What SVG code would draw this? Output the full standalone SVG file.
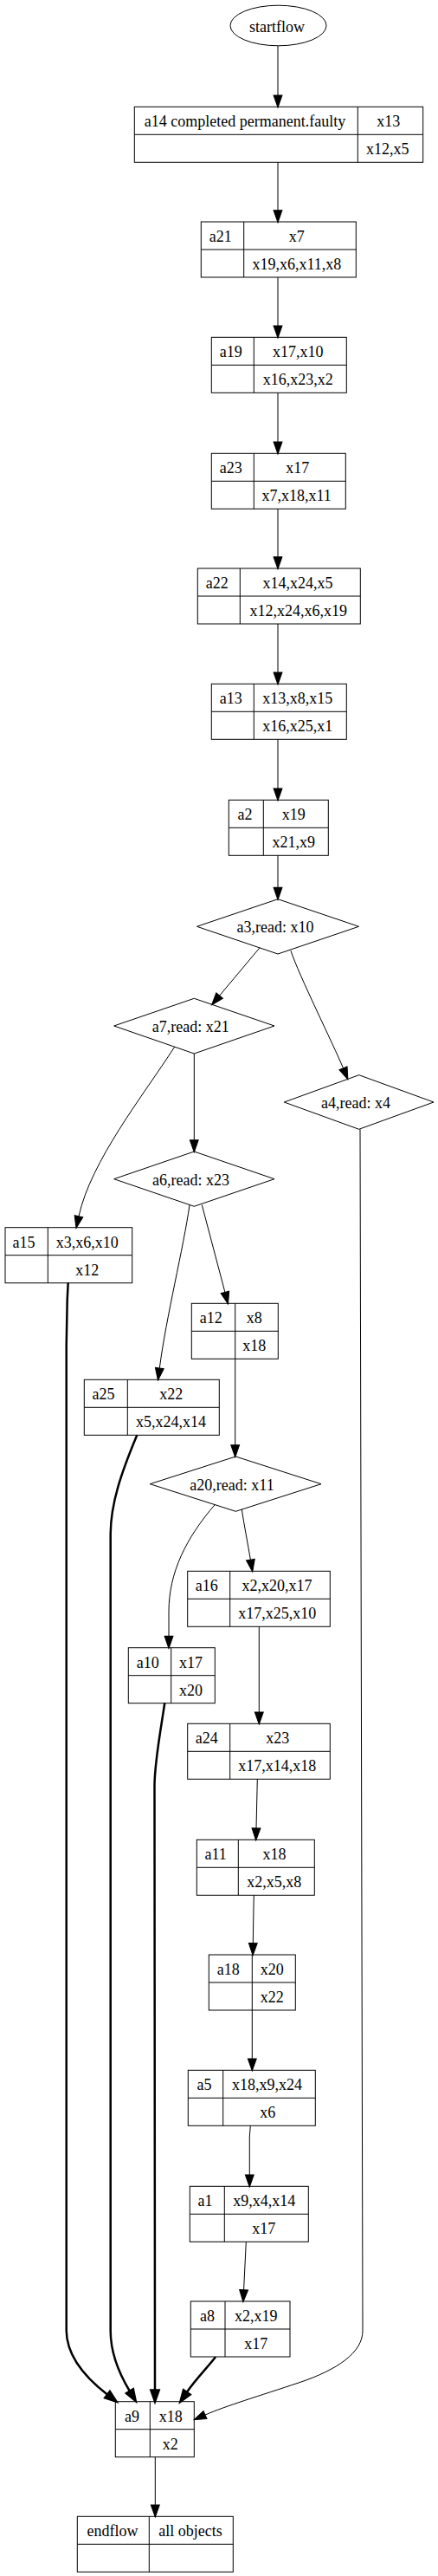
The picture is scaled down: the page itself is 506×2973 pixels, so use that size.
<svg xmlns="http://www.w3.org/2000/svg" width="506" height="2973" viewBox="0 0 506 2973">
<style>
.n rect,.n line,.n polygon,.n ellipse{fill:none;stroke:#000;stroke-width:1}
text{font-family:"Liberation Serif","Times New Roman",serif;font-size:18px;text-anchor:middle;fill:#000}
.e path{fill:none;stroke:#000;stroke-width:1}
.e path.t{stroke-width:2.5}
</style>
<defs>
<marker id="ah" markerUnits="userSpaceOnUse" markerWidth="14" markerHeight="10" viewBox="0 0 13.3 9.3" refX="0" refY="4.65" orient="auto" overflow="visible"><path d="M0,0 L13.3,4.65 L0,9.3 z" fill="#000" stroke="#000" stroke-width="1"/></marker>
<marker id="ahb" markerUnits="userSpaceOnUse" markerWidth="14" markerHeight="10" viewBox="0 0 13.3 9.3" refX="0" refY="4.65" orient="auto" overflow="visible"><path d="M0,0 L13.3,4.65 L0,9.3 z" fill="#000" stroke="#000" stroke-width="2"/></marker>
</defs>
<rect x="0" y="0" width="506" height="2973" fill="#fff"/>
<g id="edges" class="e">
<path d="M321,52.8 L321,110" marker-end="url(#ah)"/>
<path d="M321,187.3 L321,242.7" marker-end="url(#ah)"/>
<path d="M321,320 L321,376" marker-end="url(#ah)"/>
<path d="M321,453.3 L321,510" marker-end="url(#ah)"/>
<path d="M321,587.3 L321,642.7" marker-end="url(#ah)"/>
<path d="M321,720 L321,776" marker-end="url(#ah)"/>
<path d="M321,853.3 L321,910" marker-end="url(#ah)"/>
<path d="M321,987.3 L321,1024.4" marker-end="url(#ah)"/>
<path d="M300,1093.8 L253.6,1149.1" marker-end="url(#ah)"/>
<path d="M336,1097.3 C345,1125 385,1205 396.5,1232.8" marker-end="url(#ah)"/>
<path d="M201.7,1208.2 C165,1265 105,1340 91,1403.7" marker-end="url(#ah)"/>
<path d="M224.3,1216 L224.3,1315.7" marker-end="url(#ah)"/>
<path d="M219,1390.7 C212,1440 192,1520 184.3,1579.1" marker-end="url(#ah)"/>
<path d="M233.3,1390.7 L259.9,1491.4" marker-end="url(#ah)"/>
<path d="M271.7,1568.3 L271.7,1667.7" marker-end="url(#ah)"/>
<path d="M248.3,1736.5 C215,1775 195,1815 195,1860 L195,1888.4" marker-end="url(#ah)"/>
<path d="M279.3,1742 C282,1760 286,1780 289.4,1800.2" marker-end="url(#ah)"/>
<path d="M299.3,1877.3 L299.3,1976" marker-end="url(#ah)"/>
<path d="M297.3,2053.3 L297,2066.7 L296,2110" marker-end="url(#ah)"/>
<path d="M293.3,2187.3 L293,2200 L292.3,2242.7" marker-end="url(#ah)"/>
<path d="M291.3,2320 L291.3,2376" marker-end="url(#ah)"/>
<path d="M289.3,2453.3 L288.3,2466 L288.3,2510" marker-end="url(#ah)"/>
<path d="M284.3,2587.3 L281.6,2642.7" marker-end="url(#ah)"/>
<path class="t" d="M249,2720.3 C240,2732 226,2746 215.9,2760.8" marker-end="url(#ahb)"/>
<path class="t" d="M190.3,1965.3 C186,1995 179,2030 178.5,2060 L179,2758.4" marker-end="url(#ahb)"/>
<path class="t" d="M158.3,1656.3 C140,1700 128,1735 127.7,1770 L127.7,2690 C127.7,2715 138,2740 149.8,2759.5" marker-end="url(#ahb)"/>
<path class="t" d="M78.7,1480.3 L77.7,1500 L76.7,1553 L76.7,2690 C77,2720 100,2745 123.9,2763.5" marker-end="url(#ahb)"/>
<path d="M416,1303.3 L419,2690 C419,2715 390,2735 345,2750 C300,2765 260,2777 237,2787.1" marker-end="url(#ah)"/>
<path d="M179.3,2835.7 L179.3,2891" marker-end="url(#ah)"/>
</g>
<g id="startflow" class="n"><ellipse cx="321.5" cy="29.5" rx="55.5" ry="23.3"/><text x="320" y="36.5">startflow</text></g>
<g id="a14" class="n"><rect x="155.3" y="123.3" width="333.4" height="64"/><line x1="155.3" y1="155.3" x2="488.7" y2="155.3"/><line x1="413.3" y1="123.3" x2="413.3" y2="187.3"/><text x="283" y="146.3">a14 completed permanent.faulty</text><text x="448.7" y="146.3">x13</text><text x="447.8" y="178.3">x12,x5</text></g>
<g id="a21" class="n"><rect x="232.3" y="256" width="179" height="64"/><line x1="232.3" y1="288" x2="411.3" y2="288"/><line x1="281.7" y1="256" x2="281.7" y2="320"/><text x="254.7" y="279">a21</text><text x="342.8" y="279">x7</text><text x="342.8" y="311">x19,x6,x11,x8</text></g>
<g id="a19" class="n"><rect x="244.3" y="389.3" width="156" height="64"/><line x1="244.3" y1="421.3" x2="400.3" y2="421.3"/><line x1="293.3" y1="389.3" x2="293.3" y2="453.3"/><text x="266.7" y="412.3">a19</text><text x="344.2" y="412.3">x17,x10</text><text x="344.2" y="444.3">x16,x23,x2</text></g>
<g id="a23" class="n"><rect x="244.3" y="523.3" width="155" height="64"/><line x1="244.3" y1="555.3" x2="399.3" y2="555.3"/><line x1="293.3" y1="523.3" x2="293.3" y2="587.3"/><text x="266.8" y="546.3">a23</text><text x="343.7" y="546.3">x17</text><text x="342.7" y="578.3">x7,x18,x11</text></g>
<g id="a22" class="n"><rect x="228.3" y="656" width="188" height="64"/><line x1="228.3" y1="688" x2="416.3" y2="688"/><line x1="277.3" y1="656" x2="277.3" y2="720"/><text x="250.8" y="679">a22</text><text x="344" y="679">x14,x24,x5</text><text x="344.7" y="711">x12,x24,x6,x19</text></g>
<g id="a13" class="n"><rect x="244.3" y="789.3" width="156" height="64"/><line x1="244.3" y1="821.3" x2="400.3" y2="821.3"/><line x1="293.3" y1="789.3" x2="293.3" y2="853.3"/><text x="266.8" y="812.3">a13</text><text x="343.8" y="812.3">x13,x8,x15</text><text x="343.7" y="844.3">x16,x25,x1</text></g>
<g id="a2" class="n"><rect x="264.3" y="923.3" width="115" height="64"/><line x1="264.3" y1="955.3" x2="379.3" y2="955.3"/><line x1="304.3" y1="923.3" x2="304.3" y2="987.3"/><text x="283" y="946.3">a2</text><text x="339.2" y="946.3">x19</text><text x="339.2" y="978.3">x21,x9</text></g>
<g id="a3" class="n"><polygon points="321,1037.7 414.5,1069.3 321,1101 227.5,1069.3"/><text x="318" y="1076.3">a3,read: x10</text></g>
<g id="a7" class="n"><polygon points="224.3,1152.3 317,1184 224.3,1216 131.7,1184"/><text x="220.3" y="1191">a7,read: x21</text></g>
<g id="a4" class="n"><polygon points="414.7,1240.7 501,1272 414.7,1303.3 328.3,1272"/><text x="411" y="1279">a4,read: x4</text></g>
<g id="a6" class="n"><polygon points="224.3,1329 317,1360.7 224.3,1392.3 131.7,1360.7"/><text x="220.5" y="1367.7">a6,read: x23</text></g>
<g id="a15" class="n"><rect x="6" y="1416.7" width="146.7" height="64"/><line x1="6" y1="1448.7" x2="152.7" y2="1448.7"/><line x1="55.3" y1="1416.7" x2="55.3" y2="1480.7"/><text x="27.5" y="1439.7">a15</text><text x="100.8" y="1439.7">x3,x6,x10</text><text x="100.8" y="1471.7">x12</text></g>
<g id="a12" class="n"><rect x="221.3" y="1504.3" width="100" height="64"/><line x1="221.3" y1="1536.3" x2="321.3" y2="1536.3"/><line x1="271.7" y1="1504.3" x2="271.7" y2="1568.3"/><text x="243.8" y="1527.3">a12</text><text x="293.8" y="1527.3">x8</text><text x="293.7" y="1559.3">x18</text></g>
<g id="a25" class="n"><rect x="97.3" y="1592.3" width="156" height="64"/><line x1="97.3" y1="1624.3" x2="253.3" y2="1624.3"/><line x1="147.3" y1="1592.3" x2="147.3" y2="1656.3"/><text x="119.5" y="1615.3">a25</text><text x="197.8" y="1615.3">x22</text><text x="197.5" y="1647.3">x5,x24,x14</text></g>
<g id="a20" class="n"><polygon points="272.3,1681 371,1712.7 272.3,1744.3 173.3,1712.7"/><text x="268" y="1719.7">a20,read: x11</text></g>
<g id="a16" class="n"><rect x="216.7" y="1813.3" width="164.6" height="64"/><line x1="216.7" y1="1845.3" x2="381.3" y2="1845.3"/><line x1="265.7" y1="1813.3" x2="265.7" y2="1877.3"/><text x="238.7" y="1836.3">a16</text><text x="320" y="1836.3">x2,x20,x17</text><text x="320.3" y="1868.3">x17,x25,x10</text></g>
<g id="a10" class="n"><rect x="148.3" y="1901.7" width="100" height="64"/><line x1="148.3" y1="1933.7" x2="248.3" y2="1933.7"/><line x1="197.7" y1="1901.7" x2="197.7" y2="1965.7"/><text x="170.8" y="1924.7">a10</text><text x="220.5" y="1924.7">x17</text><text x="220.5" y="1956.7">x20</text></g>
<g id="a24" class="n"><rect x="216.7" y="1989.3" width="164.6" height="64"/><line x1="216.7" y1="2021.3" x2="381.3" y2="2021.3"/><line x1="265.7" y1="1989.3" x2="265.7" y2="2053.3"/><text x="238.7" y="2012.3">a24</text><text x="320.7" y="2012.3">x23</text><text x="320.3" y="2044.3">x17,x14,x18</text></g>
<g id="a11" class="n"><rect x="227.3" y="2123.3" width="136" height="64"/><line x1="227.3" y1="2155.3" x2="363.3" y2="2155.3"/><line x1="275.3" y1="2123.3" x2="275.3" y2="2187.3"/><text x="249.2" y="2146.3">a11</text><text x="317" y="2146.3">x18</text><text x="316.7" y="2178.3">x2,x5,x8</text></g>
<g id="a18" class="n"><rect x="241.3" y="2256" width="100" height="64"/><line x1="241.3" y1="2288" x2="341.3" y2="2288"/><line x1="291.3" y1="2256" x2="291.3" y2="2320"/><text x="263.8" y="2279">a18</text><text x="314.2" y="2279">x20</text><text x="314.2" y="2311">x22</text></g>
<g id="a5" class="n"><rect x="217.3" y="2389.3" width="147" height="64"/><line x1="217.3" y1="2421.3" x2="364.3" y2="2421.3"/><line x1="257.7" y1="2389.3" x2="257.7" y2="2453.3"/><text x="236" y="2412.3">a5</text><text x="308.5" y="2412.3">x18,x9,x24</text><text x="309.2" y="2444.3">x6</text></g>
<g id="a1" class="n"><rect x="219.3" y="2523.3" width="137" height="64"/><line x1="219.3" y1="2555.3" x2="356.3" y2="2555.3"/><line x1="259.3" y1="2523.3" x2="259.3" y2="2587.3"/><text x="237" y="2546.3">a1</text><text x="305.3" y="2546.3">x9,x4,x14</text><text x="304.7" y="2578.3">x17</text></g>
<g id="a8" class="n"><rect x="220.3" y="2656" width="114.7" height="64"/><line x1="220.3" y1="2688" x2="335" y2="2688"/><line x1="260" y1="2656" x2="260" y2="2720"/><text x="239.5" y="2679">a8</text><text x="295.7" y="2679">x2,x19</text><text x="295.8" y="2711">x17</text></g>
<g id="a9" class="n"><rect x="133.3" y="2771.7" width="91" height="64"/><line x1="133.3" y1="2803.7" x2="224.3" y2="2803.7"/><line x1="173.3" y1="2771.7" x2="173.3" y2="2835.7"/><text x="152.5" y="2794.7">a9</text><text x="197.3" y="2794.7">x18</text><text x="196.7" y="2826.7">x2</text></g>
<g id="endflow" class="n"><rect x="89.3" y="2904.3" width="180" height="64"/><line x1="89.3" y1="2936.3" x2="269.3" y2="2936.3"/><line x1="172.3" y1="2904.3" x2="172.3" y2="2968.3"/><text x="130" y="2927.3">endflow</text><text x="220" y="2927.3">all objects</text></g>
</svg>
